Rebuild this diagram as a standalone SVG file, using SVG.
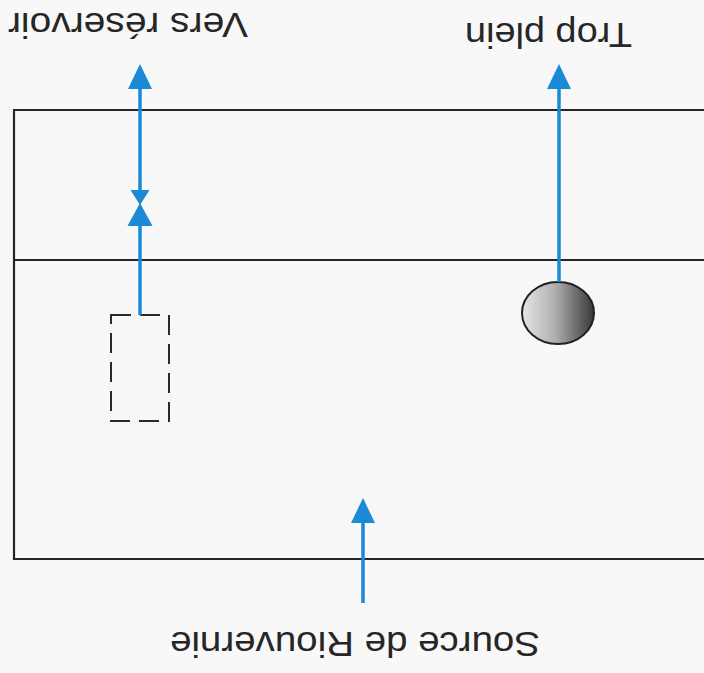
<svg xmlns="http://www.w3.org/2000/svg" width="704" height="673" viewBox="0 0 704 673">
  <style>
    .wall { fill: none; stroke: #262626; stroke-width: 2.2; }
    .pipe { fill: none; stroke: #1a8ad6; stroke-width: 3.5; }
    .head { fill: #1a8ad6; }
    .lbl { font-family: "Liberation Sans", Arial, Helvetica, sans-serif; font-size: 35px; fill: #262626; text-anchor: middle; }
    .dash { fill: none; stroke: #2a2a2a; stroke-width: 2; stroke-dasharray: 20 9; }
  </style>
  <defs>
    <marker id="ah" viewBox="0 0 25 24" refX="0" refY="12" markerWidth="25" markerHeight="24" orient="auto" markerUnits="userSpaceOnUse">
      <path d="M0,0 L25,12 L0,24 Z" fill="#1a8ad6"/>
    </marker>
    <linearGradient id="ballg" x1="0" y1="0" x2="1" y2="0">
      <stop offset="0" stop-color="#e6e6e6"/>
      <stop offset="0.45" stop-color="#b0b0b0"/>
      <stop offset="1" stop-color="#383838"/>
    </linearGradient>
  </defs>
  <rect width="704" height="673" fill="#f8f8f9"/>

  <g id="basin">
    <path class="wall" d="M704,110 H14 V559 H704"/>
    <line class="wall" x1="14" y1="260" x2="704" y2="260"/>
  </g>

  <g id="prise">
    <path class="dash" d="M111,315 H169 V421 H111 Z"/>
  </g>

  <g id="flotteur">
    <ellipse cx="558" cy="313" rx="36" ry="31" fill="url(#ballg)" stroke="#222" stroke-width="2"/>
  </g>

  <g id="vanne">
    <polygon class="head" points="130.5,190 149.5,190 140,205"/>
    <polygon class="head" points="140,203 152.5,226 127.5,226"/>
  </g>

  <g id="connectors">
    <line class="pipe" x1="140" y1="315" x2="140" y2="226"/>
    <line class="pipe" x1="140" y1="191" x2="140" y2="89" marker-end="url(#ah)"/>
    <line class="pipe" x1="559" y1="282" x2="559" y2="89" marker-end="url(#ah)"/>
    <line class="pipe" x1="363" y1="603" x2="363" y2="523" marker-end="url(#ah)"/>
  </g>

  <g id="label-reservoir">
    <text class="lbl" x="128" y="13" transform="rotate(180 128 13)" textLength="240" lengthAdjust="spacingAndGlyphs">Vers réservoir</text>
  </g>
  <g id="label-tropplein">
    <text class="lbl" x="548.5" y="23" transform="rotate(180 548.5 23)" textLength="167" lengthAdjust="spacingAndGlyphs">Trop plein</text>
  </g>
  <g id="label-source">
    <text class="lbl" x="355" y="632" transform="rotate(180 355 632)" textLength="370" lengthAdjust="spacingAndGlyphs">Source de Riouvernie</text>
  </g>
</svg>
